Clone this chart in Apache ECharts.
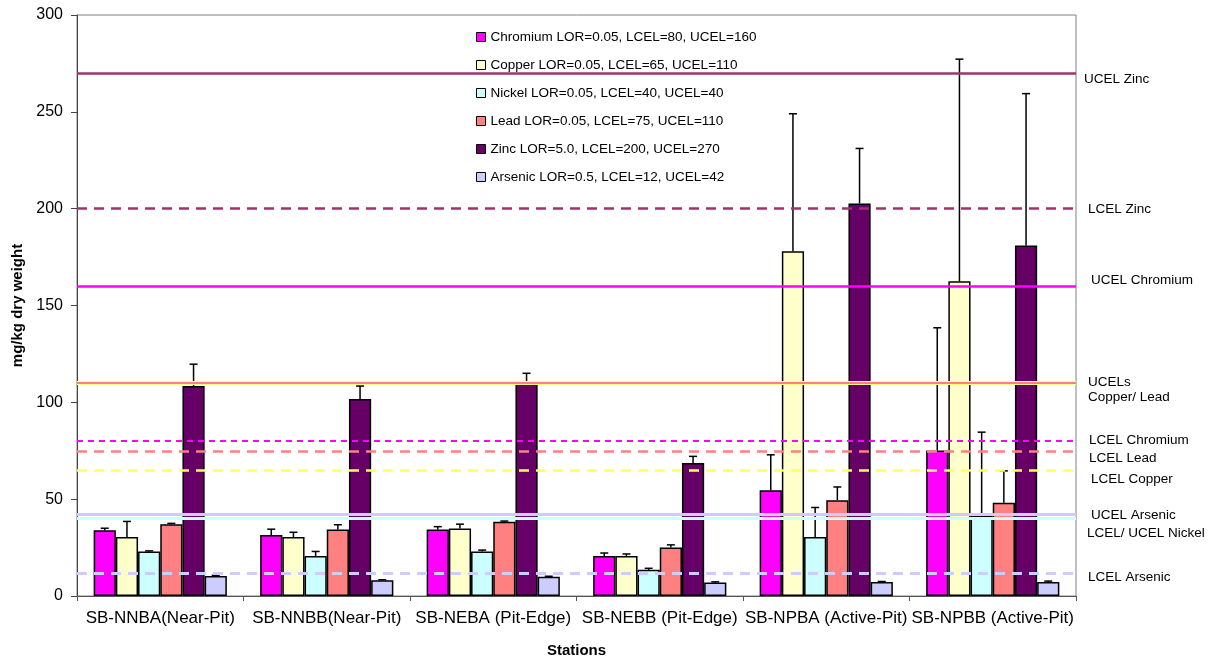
<!DOCTYPE html>
<html>
<head>
<meta charset="utf-8">
<script src="https://cdn.jsdelivr.net/npm/echarts@6/dist/echarts.min.js"></script>
<style>html,body{margin:0;padding:0;background:#fff}#c{width:1218px;height:663px}</style>
</head>
<body>
<div id="c"></div>
<script>
// ---- data ----
const stations = ['SB-NNBA(Near-Pit)', 'SB-NNBB(Near-Pit)', 'SB-NEBA (Pit-Edge)', 'SB-NEBB (Pit-Edge)', 'SB-NPBA (Active-Pit)', 'SB-NPBB (Active-Pit)'];
const seriesNames = ['Chromium LOR=0.05, LCEL=80, UCEL=160', 'Copper LOR=0.05, LCEL=65, UCEL=110', 'Nickel LOR=0.05, LCEL=40, UCEL=40', 'Lead LOR=0.05, LCEL=75, UCEL=110', 'Zinc LOR=5.0, LCEL=200, UCEL=270', 'Arsenic LOR=0.5, LCEL=12, UCEL=42'];
const chromium = [34, 31.5, 34.4, 20.7, 54.6, 75.1];
const chromiumErr = [1, 3, 1.4, 1.5, 18.3, 63.4];
const copper = [30.5, 30.5, 34.9, 20.7, 178, 162.5];
const copperErr = [8, 2.4, 2.2, 1, 71, 114.7];
const nickel = [23, 20.7, 23, 13.5, 30.5, 41.6];
const nickelErr = [0.3, 2.3, 0.7, 0.8, 15.2, 43];
const lead = [37, 34.4, 38.4, 25, 49.5, 48.1];
const leadErr = [0.5, 2.4, 0.3, 1.4, 6.8, 16.5];
const zinc = [108.4, 101.7, 111, 68.7, 202.7, 181];
const zincErr = [11.3, 6.7, 4, 3.4, 28.4, 78.4];
const arsenic = [10.3, 8.1, 9.9, 7, 7.2, 7.2];
const arsenicErr = [0.4, 0.3, 0.3, 0.3, 0.3, 0.5];
const limitNames = ['UCEL Zinc', 'LCEL Zinc', 'UCEL Chromium', '', 'UCELs\nCopper/ Lead', 'LCEL Chromium', 'LCEL Lead', 'LCEL Copper', 'UCEL Arsenic', 'LCEL/ UCEL Nickel', 'LCEL Arsenic'];
const limitValues = [270, 200, 160, 110, 110, 80, 75, 65, 42, 40, 12];
const yTicks = [0, 50, 100, 150, 200, 250, 300];

// ---- styles ----
const FONT = 'Liberation Sans, Arial, sans-serif';
const barColors = ['#FF00FF', '#FFFFCC', '#CCFFFF', '#FF8080', '#660066', '#CCCCFF'];
const limitStyles = [
  {color: '#A0336E', type: 'solid', width: 2.5, off: [0, 6]},
  {color: '#A0336E', type: [10, 7], width: 2.5, off: [4, 1]},
  {color: '#FF00FF', type: 'solid', width: 2.5, off: [7, -6]},
  {color: '#FFFF88', type: 'solid', width: 4, off: [0, 0]},
  {color: '#FF8080', type: 'solid', width: 2, off: [4, 7]},
  {color: '#FF00FF', type: [6, 5], width: 2, off: [5, -1]},
  {color: '#FF8080', type: [10, 7], width: 2.5, off: [5, 8]},
  {color: '#FFFF66', type: [10, 7], width: 2.5, off: [7, 9]},
  {color: '#CCCCFF', type: 'solid', width: 3, off: [7, 1]},
  {color: '#CCFFFF', type: 'solid', width: 3, off: [3, 15]},
  {color: '#CCCCFF', type: [10, 7], width: 3, off: [4, 5]}
];

const values = [chromium, copper, nickel, lead, zinc, arsenic];
const errs = [chromiumErr, copperErr, nickelErr, leadErr, zincErr, arsenicErr];
const GAP = 0.2;

const barSeries = seriesNames.map((n, k) => ({
  name: n, type: 'bar', data: values[k],
  barGap: '0%', barCategoryGap: (GAP * 100) + '%',
  itemStyle: {color: barColors[k], borderColor: '#000', borderWidth: 1.5},
  z: 2
}));

const errData = [];
values.forEach((arr, k) => arr.forEach((v, i) => errData.push([i, k, v, errs[k][i]])));

const errSeries = {
  type: 'custom', name: 'err', data: errData, z: 4, silent: true,
  encode: {x: 0, y: 2},
  renderItem: function (params, api) {
    const cat = api.value(0), k = api.value(1), v = api.value(2), e = api.value(3);
    const band = api.size([1, 0])[0];
    const bw = band * (1 - GAP) / 6;
    const base = api.coord([cat, v]);
    const top = api.coord([cat, v + e]);
    const x = base[0] - band * (1 - GAP) / 2 + bw * (k + 0.5);
    const st = {stroke: '#000', lineWidth: 1.5};
    return {type: 'group', children: [
      {type: 'line', shape: {x1: x, y1: base[1], x2: x, y2: top[1]}, style: st},
      {type: 'line', shape: {x1: x - 4, y1: top[1], x2: x + 4, y2: top[1]}, style: st}
    ]};
  }
};

const limitSeries = {
  type: 'line', name: 'limits', data: [], z: 3,
  markLine: {
    silent: true, symbol: ['none', 'none'], animation: false,
    data: limitValues.map((v, i) => ({
      yAxis: v,
      lineStyle: {color: limitStyles[i].color, type: limitStyles[i].type, width: limitStyles[i].width},
      label: {
        show: limitNames[i] !== '', position: 'end', formatter: limitNames[i],
        color: '#000', fontSize: 13.5, fontFamily: FONT, lineHeight: 15,
        distance: 8, offset: limitStyles[i].off, align: 'left'
      }
    }))
  }
};

const chart = echarts.init(document.getElementById('c'));
chart.setOption({
  animation: false,
  textStyle: {fontFamily: FONT},
  grid: {left: 77, right: 142, top: 15, bottom: 63, show: true, borderColor: '#808080', borderWidth: 1},
  legend: {
    data: seriesNames, orient: 'vertical', left: 471, top: 25,
    itemWidth: 9, itemHeight: 9, itemGap: 14, itemTextGap: 2, icon: 'rect',
    itemStyle: {borderColor: '#000', borderWidth: 1},
    textStyle: {fontSize: 13.5, color: '#000', fontFamily: FONT, lineHeight: 14}
  },
  xAxis: {
    type: 'category', data: stations,
    name: 'Stations', nameLocation: 'middle', nameGap: 47,
    nameTextStyle: {fontSize: 15, fontWeight: 'bold', color: '#000', fontFamily: FONT},
    axisLine: {lineStyle: {color: '#555', width: 1}},
    axisTick: {show: true, length: 5, lineStyle: {color: '#555'}},
    axisLabel: {fontSize: 17, color: '#000', interval: 0, margin: 14, fontFamily: FONT}
  },
  yAxis: {
    type: 'value', min: yTicks[0], max: yTicks[yTicks.length - 1], interval: 50,
    name: 'mg/kg dry weight', nameLocation: 'middle', nameGap: 49, nameRotate: 90,
    nameTextStyle: {fontSize: 15, fontWeight: 'bold', color: '#000', fontFamily: FONT},
    axisLine: {show: true, lineStyle: {color: '#444', width: 1}},
    axisTick: {show: true, length: 6, lineStyle: {color: '#444'}},
    axisLabel: {fontSize: 16, color: '#000', margin: 14, fontFamily: FONT},
    splitLine: {show: false}
  },
  series: barSeries.concat([limitSeries, errSeries])
});
</script>
</body>
</html>
